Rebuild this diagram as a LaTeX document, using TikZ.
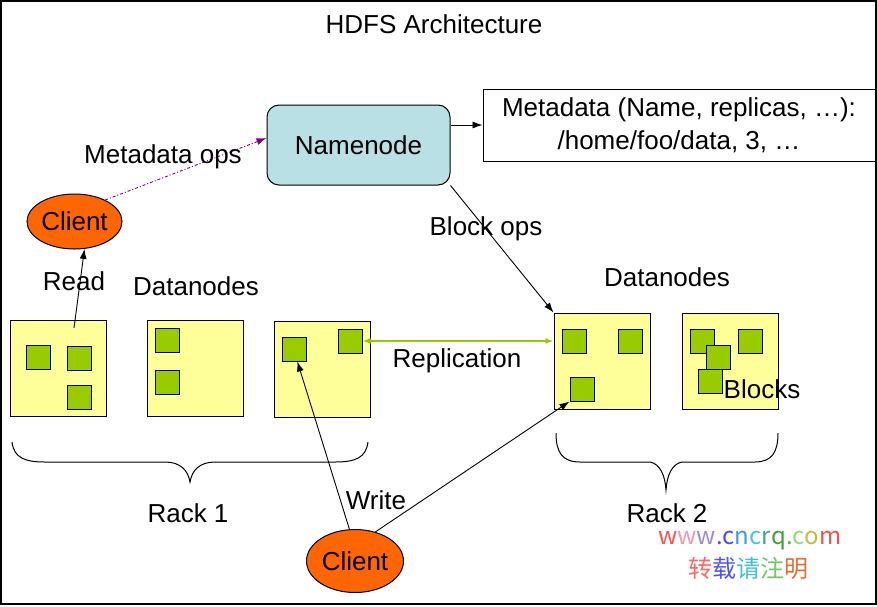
\documentclass[tikz,border=0pt]{standalone}
\usepackage{fontspec}
\setmainfont{Liberation Sans}
\newfontfamily\cjk{Noto Sans CJK SC}
\usepackage{tikz}
\usetikzlibrary{positioning,shapes.geometric,arrows.meta}

\definecolor{nnblue}{RGB}{185,224,228}
\definecolor{dnyellow}{RGB}{255,255,153}
\definecolor{blkgreen}{RGB}{153,204,0}
\definecolor{clorange}{RGB}{255,102,0}
\definecolor{mdpurple}{RGB}{128,0,128}

\begin{document}
\begin{tikzpicture}[
			x=1pt, y=-1pt
			,every node/.append style={font=\fontsize{26}{33}\selectfont, inner sep=0pt}
			,dn/.style={draw, line width=1pt, fill=dnyellow, minimum size=96pt}
			,blk/.style={draw, line width=1pt, fill=blkgreen, minimum size=24pt}
			,cl/.style={ellipse, draw, line width=1pt, fill=clorange, minimum width=95pt, minimum height=55pt}
			,op/.style={-{Latex[length=10pt,width=7pt]}, line width=.9pt}
			,wm/.style={font=\cjk\fontsize{24}{28}\selectfont}
		]
			\useasboundingbox (0,0) rectangle (877,606);
			\draw [line width=2pt] (1,1) rectangle (876,604);

			\node (T) at (434,24) {HDFS Architecture};

			% namenode and its metadata
			\node [draw, line width=1pt, fill=nnblue, rounded corners=12pt, minimum width=183pt, minimum height=80pt] (NN) at (358.5,145) {Namenode};
			\node [draw, line width=1pt, minimum width=392pt, minimum height=72pt, align=center] (M) at (679,125)
				{Metadata (Name, replicas, \dots):\\/home/foo/data, 3, \dots};
			\draw [op] (M.west -| NN.east) -- (M.west);

			% rack 1
			\node [dn] (D1) at (58,368) {};
			\node [dn] (D2) at (195,368) {};
			\node [dn] (D3) at (322,369) {};
			\node [blk] (B1) at (38,357) {};
			\node [blk] (B2) at (79,358) {};
			\node [blk] (B3) at (79,397) {};
			\node [blk] (B4) at (167,340) {};
			\node [blk] (B5) at (167,382) {};
			\node [blk] (B6) at (294,349) {};
			\node [blk] (B7) at (350,341) {};

			% rack 2
			\node [dn] (D4) at (602,361) {};
			\node [dn] (D5) at (730,361) {};
			\node [blk] (B8) at (574,341) {};
			\node [blk] (B9) at (630,341) {};
			\node [blk] (B10) at (582,389) {};
			\node [blk] (B11) at (702,341) {};
			\node [blk] (B12) at (750,341) {};
			\node [blk] (B13) at (718,357) {};
			\node [blk] (B14) at (710,381) {};

			% clients
			\node [cl] (C1) at (74.5,221.5) {Client};
			\node [cl, minimum width=97pt, minimum height=63pt] (C2) at (355,561) {Client};

			% connectors
			\coordinate (R) at (74,328);
			\draw [op] (R) -- (C1.290);
			\draw [-{Latex[length=10pt,width=7pt]}, mdpurple, line width=.9pt, dash pattern=on 3pt off 2pt on 1pt off 2pt] (C1.35) -- ([yshift=7pt]NN.west);
			\draw [{Latex[length=8pt,width=6pt]}-{Latex[length=8pt,width=6pt]}, blkgreen, line width=1.6pt] (B7.east) -- (B7.east -| D4.west);
			\draw [op] (NN.south east) -- (D4.north west);
			\draw [op] (C2.100) -- (B6.-75);
			\draw [op] (C2.55) -- (B10.south west);

			% braces
			\draw [line width=1pt] (12,442) .. controls (14,458) and (25,462) .. (45,462) -- (165,462)
				.. controls (180,462) and (188,470) .. (190,482)
				.. controls (192,470) and (200,462) .. (215,462) -- (335,462)
				.. controls (355,462) and (366,458) .. (368,442);
			\draw [line width=1pt] (556,433) .. controls (556,452) and (562,462) .. (580,462) -- (650,462)
				.. controls (660,464) and (665,475) .. (666,490)
				.. controls (667,475) and (672,464) .. (682,462) -- (755,462)
				.. controls (772,462) and (778,452) .. (778,433);

			% labels
			\node (MO) at (163,157) {Metadata ops};
			\node (RD) at (74,281) {Read};
			\node (DL) at (196,286) {Datanodes};
			\node (BO) at (486,229) {Block ops};
			\node (DR) at (667,277) {Datanodes};
			\node (RP) at (457,361) {Replication};
			\node (BL) at (762,389) {Blocks};
			\node (WR) at (376,500) {Write};
			\node (K1) at (188,513) {Rack 1};
			\node (K2) at (667,513) {Rack 2};

			% watermark
			\node [wm] (W1) at (750,541) {\textcolor[HTML]{FF5050}{w}\textcolor[HTML]{F09AA8}{w}\textcolor[HTML]{9A8AE8}{w}\textcolor[HTML]{5050FF}{.}\textcolor[HTML]{4848FF}{c}\textcolor[HTML]{3C9CF0}{n}\textcolor[HTML]{40C8E0}{c}\textcolor[HTML]{40A888}{r}\textcolor[HTML]{40A040}{q}\textcolor[HTML]{60B050}{.}\textcolor[HTML]{90E070}{c}\textcolor[HTML]{B8C040}{o}\textcolor[HTML]{E05848}{m}};
			\node [wm] (W2) at (748,568) {\textcolor[HTML]{FF6868}{转}\textcolor[HTML]{5050FF}{载}\textcolor[HTML]{40C0E0}{请}\textcolor[HTML]{70C860}{注}\textcolor[HTML]{E07030}{明}};
		\end{tikzpicture}
\end{document}
